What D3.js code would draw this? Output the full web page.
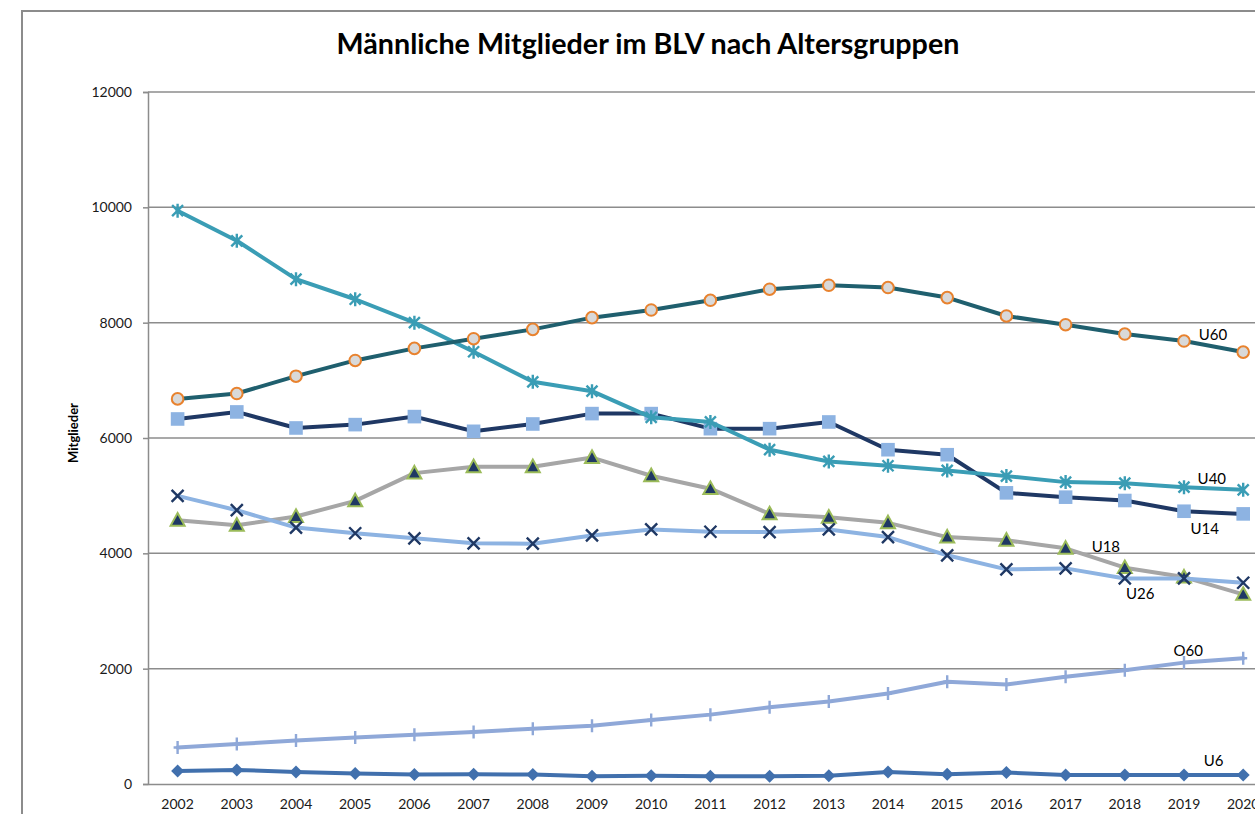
<!DOCTYPE html>
<html>
<head>
<meta charset="utf-8">
<script src="https://cdn.jsdelivr.net/npm/d3@7"></script>
<style>
  html, body { margin: 0; padding: 0; overflow: hidden; background: #fff; }
  svg { display: block; }
</style>
</head>
<body>
<div id="chart"></div>
<script>
// ---------- data ----------
const years = ["2002","2003","2004","2005","2006","2007","2008","2009","2010","2011","2012","2013","2014","2015","2016","2017","2018","2019","2020"];
const yTicks = [0, 2000, 4000, 6000, 8000, 10000, 12000];

const u6  = [227,244,209,180,163,169,163,134,145,134,134,145,209,169,198,157,157,157,157];
const u14 = [6330,6452,6174,6232,6371,6116,6243,6423,6423,6162,6162,6278,5797,5710,5049,4974,4916,4730,4684];
const u18 = [4574,4487,4638,4910,5391,5501,5501,5661,5345,5121,4684,4626,4529,4282,4226,4087,3751,3588,3287];
const u26 = [4997,4748,4446,4348,4261,4174,4168,4310,4414,4374,4368,4414,4282,3966,3722,3739,3565,3565,3490];
const u40 = [9942,9420,8754,8406,8000,7496,6974,6812,6359,6278,5797,5594,5519,5438,5339,5235,5217,5148,5101];
const u60 = [6678,6771,7072,7345,7554,7722,7884,8087,8220,8388,8580,8649,8609,8435,8116,7965,7803,7681,7490];
const o60 = [634,692,756,808,855,901,959,1012,1110,1203,1331,1430,1570,1773,1727,1860,1971,2105,2180];

const seriesNames = ["U6","U14","U18","U26","U40","U60","O60"];
// label anchors (fractional year position, value)
const labelYear  = [2019.5, 2019.35, 2017.68, 2018.26, 2019.47, 2019.49, 2019.07];
const labelValue = [417, 4444, 4132, 3316, 5312, 7812, 2326];

const titleText = "Männliche Mitglieder im BLV nach Altersgruppen";
const yAxisTitle = "Mitglieder";

// ---------- styles ----------
const styles = {
  U6:  { line: "#4170AD", marker: "diamond", fill: "#4170AD", stroke: "none" },
  U14: { line: "#1F3864", marker: "square",  fill: "#8DB3E2", stroke: "none" },
  U18: { line: "#A6A6A6", marker: "triangle",fill: "#1F3864", stroke: "#9BBB59" },
  U26: { line: "#8DB3E2", marker: "x",       fill: "none",    stroke: "#1F3864" },
  U40: { line: "#3A9DB5", marker: "star",    fill: "none",    stroke: "#3A9DB5" },
  U60: { line: "#1F5F6E", marker: "circle",  fill: "#D9D9D9", stroke: "#E8822E" },
  O60: { line: "#8FA8D8", marker: "plus",    fill: "none",    stroke: "#8FA8D8" }
};
const seriesData = { U6: u6, U14: u14, U18: u18, U26: u26, U40: u40, U60: u60, O60: o60 };

// ---------- layout ----------
const W = 1255, H = 814;
const plot = { left: 148, top: 92, bottom: 784, step: 59.2 };
plot.right = plot.left + plot.step * years.length;

const svg = d3.select("#chart").append("svg").attr("width", W).attr("height", H);

// outer chart border
svg.append("rect")
  .attr("x", 22).attr("y", 11).attr("width", W + 40).attr("height", H + 40)
  .attr("fill", "#fff").attr("stroke", "#8C8C8C").attr("stroke-width", 2);

const x = d3.scaleBand().domain(years).range([plot.left, plot.right]).padding(0);
const y = d3.scaleLinear().domain([0, 12000]).range([plot.bottom, plot.top]);
const xc = yr => x(yr) + x.bandwidth() / 2;
const xFrac = f => x(years[0]) + x.bandwidth() / 2 + (f - (+years[0])) * x.bandwidth();

// gridlines
svg.append("g").selectAll("line").data(yTicks.filter(d => d > 0)).join("line")
  .attr("x1", plot.left).attr("x2", plot.right)
  .attr("y1", d => y(d)).attr("y2", d => y(d))
  .attr("stroke", "#8C8C8C").attr("stroke-width", 1.5);

// y axis
const yAxis = svg.append("g").attr("transform", `translate(${plot.left},0)`)
  .call(d3.axisLeft(y).tickValues(yTicks).tickSize(5).tickPadding(11).tickFormat(d3.format("d")));
yAxis.select(".domain").attr("stroke", "#8C8C8C").attr("stroke-width", 1.5);
yAxis.selectAll(".tick line").attr("stroke", "#8C8C8C").attr("stroke-width", 1.5);
yAxis.selectAll("text").attr("font-family", "Lato, 'Open Sans', sans-serif")
  .attr("font-size", 14).attr("fill", "#1a1a1a");

// x axis
const xAxis = svg.append("g").attr("transform", `translate(0,${plot.bottom})`)
  .call(d3.axisBottom(x).tickSize(0).tickPadding(15));
xAxis.select(".domain").attr("stroke", "#8C8C8C").attr("stroke-width", 1.5);
xAxis.selectAll("text").attr("font-family", "Lato, 'Open Sans', sans-serif")
  .attr("font-size", 14).attr("fill", "#1a1a1a");

// axis title
svg.append("text")
  .attr("transform", `translate(78,433) rotate(-90)`)
  .attr("text-anchor", "middle")
  .attr("font-family", "Lato, 'Open Sans', sans-serif")
  .attr("font-weight", "bold").attr("font-size", 13).attr("fill", "#000")
  .text(yAxisTitle);

// title
const title = svg.append("text")
  .attr("x", 648).attr("y", 54)
  .attr("text-anchor", "middle")
  .attr("font-family", "Lato, 'Open Sans', sans-serif")
  .attr("font-weight", "bold").attr("font-size", 26).attr("fill", "#000")
  .text(titleText);
const tw = title.node().getComputedTextLength();
title.attr("font-size", 26 * 623 / tw);

// ---------- markers ----------
function markerPath(type) {
  switch (type) {
    case "diamond": return "M0,-6.5L6.5,0L0,6.5L-6.5,0Z";
    case "square": return "M-6.8,-6.8H6.8V6.8H-6.8Z";
    case "triangle": return "M0,-7.2L7,5.4L-7,5.4Z";
    case "x": return "M-6,-6L6,6M6,-6L-6,6";
    case "star": return "M-5.5,-5.5L5.5,5.5M5.5,-5.5L-5.5,5.5M0,-7V7";
    case "plus": return "M0,-6.5V6.5M-4,0H4";
    case "circle": return d3.symbol(d3.symbolCircle, Math.PI * 5.8 * 5.8)();
  }
}

const line = d3.line().x((d, i) => xc(years[i])).y(d => y(d));

seriesNames.forEach(name => {
  const vals = seriesData[name];
  const st = styles[name];
  const g = svg.append("g").attr("class", "series-" + name);
  g.append("path").datum(vals)
    .attr("d", line)
    .attr("fill", "none").attr("stroke", st.line).attr("stroke-width", 4)
    .attr("stroke-linejoin", "round").attr("stroke-linecap", "round");
  const isStroke = ["x", "star", "plus"].includes(st.marker);
  g.selectAll("path.m").data(vals).join("path").attr("class", "m")
    .attr("transform", (d, i) => `translate(${xc(years[i])},${y(d)})`)
    .attr("d", markerPath(st.marker))
    .attr("fill", isStroke ? "none" : st.fill)
    .attr("stroke", st.stroke)
    .attr("stroke-width", isStroke ? 2.4 : 2);
});

// series labels
svg.append("g").selectAll("text").data(seriesNames).join("text")
  .attr("x", (d, i) => xFrac(labelYear[i]))
  .attr("y", (d, i) => y(labelValue[i]))
  .attr("text-anchor", "middle").attr("dominant-baseline", "central")
  .attr("font-family", "Lato, 'Open Sans', sans-serif")
  .attr("font-size", 15).attr("fill", "#000")
  .text(d => d);
</script>
</body>
</html>
